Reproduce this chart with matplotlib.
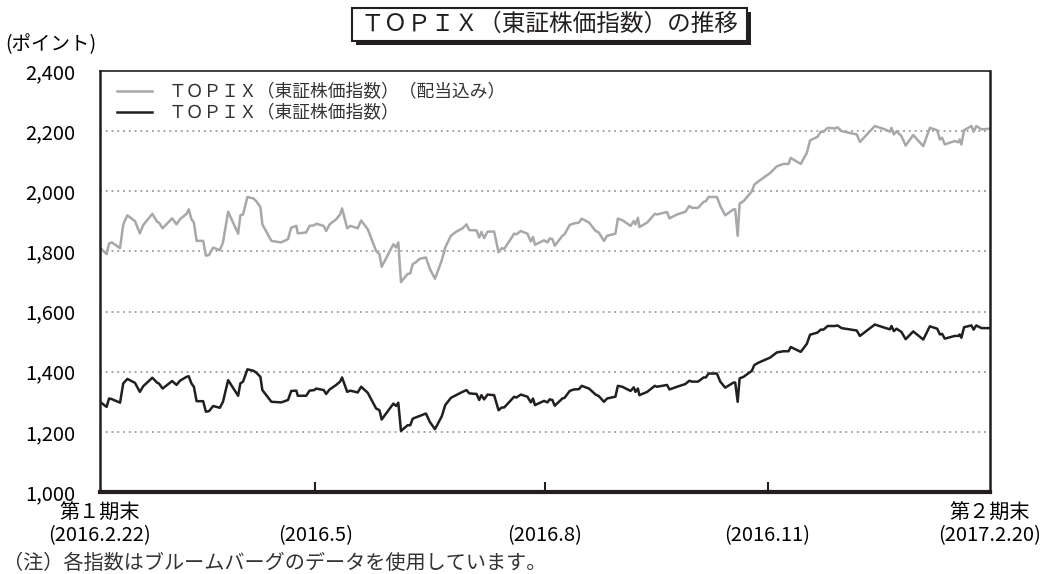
import matplotlib
matplotlib.use("Agg")
import matplotlib.pyplot as plt
import matplotlib.transforms as mtransforms
from matplotlib.patches import Rectangle

plt.rcParams['font.family'] = ['Noto Sans CJK JP', 'DejaVu Sans']

# -----------------------------------
# データ (第1期末 2016.2.22 からの経過日数)
# -----------------------------------
days = [0, 2.7, 3.7, 4.8, 8.2, 9.5, 11.2, 14.3, 16.3, 17.7, 21.4, 23.4, 24.1, 25.6,
        29.5, 31.3, 32.7, 35.4, 36.3, 37.4, 38.4, 39.5, 42.2, 43.3, 44.6, 46.3, 49.0,
        50.3, 52.4, 56.5, 57.4, 58.5, 60.3, 62.8, 63.9, 65.6, 66.4, 70.1, 74.1, 76.9,
        78.2, 80.3, 80.9, 84.3, 85.7, 87.7, 88.4, 91.5, 92.5, 93.9, 96.6, 98.2, 99.0,
        101.1, 102.4, 105.4, 106.8, 109.5, 112.9, 114.3, 115.2, 120.0, 121.1, 122.0,
        123.1, 125.8, 126.9, 127.9, 129.2, 130.6,
        133.3, 134.9, 137.0, 139.8, 141.2, 143.5, 145.6, 148.3, 149.9, 151.0, 154.0,
        155.1, 156.0, 157.1, 158.5, 161.2, 163.0, 164.3, 165.3, 169.4, 170.3, 172.1,
        174.8, 176.2, 177.1, 177.9, 181.6, 183.0, 183.9, 185.0, 186.0, 189.1, 190.0,
        192.1, 193.8, 195.9, 197.0, 200.0, 202.7, 204.0, 206.1, 207.4, 210.8, 211.8,
        213.6, 217.0, 218.3, 219.0, 220.0, 220.6, 223.8, 226.9, 227.8, 231.9, 232.9,
        236.0, 239.4, 241.0, 242.1, 244.6, 246.9, 247.8, 248.9, 252.3, 253.7, 255.7,
        259.1, 259.8, 260.8, 261.6, 263.2,
        266.6, 267.6, 269.3, 274.1, 276.8, 279.5, 281.6, 282.5, 286.6, 289.1, 290.4,
        293.4, 294.8, 295.9, 297.6, 300.6, 301.6, 303.3, 309.5, 310.8, 316.9, 321.0,
        323.1, 323.7, 324.7, 325.8, 327.8, 329.5, 332.6, 336.7, 339.4, 342.4, 343.5,
        344.4, 345.5, 349.6, 351.0, 351.6, 352.3, 353.4, 356.4, 357.3, 358.4, 360.5, 364]

topix_div = [1813, 1791, 1826, 1830, 1811, 1890, 1920, 1901, 1860, 1888, 1925, 1898, 1896, 1877,
             1910, 1890, 1907, 1925, 1940, 1907, 1896, 1835, 1835, 1786, 1788, 1813, 1804,
             1830, 1932, 1859, 1920, 1923, 1981, 1976, 1967, 1948, 1890, 1835, 1830, 1841,
             1879, 1885, 1860, 1863, 1885, 1887, 1892, 1885, 1868, 1890, 1907, 1923, 1943,
             1877, 1885, 1877, 1903, 1874, 1802, 1791, 1749, 1824, 1813, 1830,
             1698, 1725, 1727, 1758, 1764, 1775,
             1780, 1742, 1709, 1771, 1813, 1852, 1865, 1877, 1890, 1871, 1870,
             1846, 1865, 1844, 1866, 1866, 1797, 1811, 1808, 1859, 1857, 1868,
             1859, 1833, 1848, 1822, 1837, 1830, 1843, 1841, 1819, 1852, 1857,
             1888, 1893, 1896, 1909, 1896, 1868, 1863, 1835, 1852, 1859, 1909,
             1904, 1885, 1901, 1890, 1912, 1881, 1896, 1925, 1923, 1931, 1910,
             1923, 1932, 1951, 1945, 1945, 1965, 1967, 1981, 1981, 1951, 1920,
             1940, 1940, 1852, 1959, 1967,
             2000, 2022, 2033, 2061, 2083, 2091, 2091, 2111, 2091, 2128, 2169,
             2181, 2198, 2198, 2211, 2209, 2213, 2200, 2189, 2164, 2217, 2206,
             2198, 2211, 2189, 2200, 2183, 2152, 2187, 2150, 2211, 2203, 2172,
             2178, 2156, 2167, 2163, 2172, 2156, 2203, 2217, 2198, 2217, 2206, 2208]

topix = [1300, 1283, 1311, 1309, 1297, 1361, 1376, 1363, 1333, 1352, 1380, 1363, 1361, 1344,
         1369, 1356, 1370, 1383, 1385, 1361, 1350, 1302, 1302, 1267, 1269, 1286, 1280,
         1300, 1372, 1320, 1361, 1367, 1408, 1403, 1397, 1383, 1339, 1300, 1298, 1306,
         1336, 1337, 1320, 1320, 1337, 1339, 1344, 1339, 1326, 1341, 1356, 1367, 1381,
         1333, 1337, 1331, 1350, 1330, 1278, 1272, 1241, 1294, 1286, 1297,
         1203, 1222, 1222, 1244, 1248, 1252,
         1261, 1233, 1209, 1252, 1289, 1313, 1322, 1333, 1339, 1328, 1326,
         1306, 1322, 1308, 1324, 1322, 1272, 1281, 1281, 1317, 1314, 1324,
         1317, 1298, 1311, 1289, 1303, 1298, 1308, 1306, 1287, 1311, 1313,
         1336, 1341, 1342, 1353, 1344, 1324, 1319, 1300, 1311, 1317, 1353,
         1350, 1336, 1348, 1333, 1344, 1322, 1333, 1353, 1350, 1356, 1341,
         1350, 1359, 1370, 1367, 1367, 1381, 1381, 1394, 1394, 1367, 1347,
         1364, 1364, 1300, 1378, 1383,
         1403, 1422, 1430, 1447, 1464, 1468, 1468, 1482, 1466, 1493, 1523,
         1530, 1540, 1540, 1552, 1552, 1554, 1545, 1537, 1519, 1557, 1546,
         1541, 1552, 1535, 1543, 1532, 1508, 1534, 1507, 1551, 1543, 1524,
         1526, 1510, 1519, 1519, 1524, 1513, 1548, 1554, 1540, 1554, 1545, 1545]

tick_days = [0, 88, 182, 273, 364]
tick_labels = ["(2016.2.22)", "(2016.5)", "(2016.8)", "(2016.11)", "(2017.2.20)"]
yticks = [1000, 1200, 1400, 1600, 1800, 2000, 2200, 2400]

label_div = "ＴＯＰＩＸ（東証株価指数）（配当込み）"
label_topix = "ＴＯＰＩＸ（東証株価指数）"

# -----------------------------------
# グラフ
# -----------------------------------
W, H = 1048, 574
fig = plt.figure(figsize=(W / 100, H / 100), dpi=100)
ax = fig.add_axes([100 / W, 1 - 492 / H, 890 / W, 421 / H])

ax.plot(days, topix_div, color="#a7a8ab", lw=1.8, label=label_div, solid_joinstyle="round")
ax.plot(days, topix, color="#231f20", lw=1.8, label=label_topix, solid_joinstyle="round")

ax.set_xlim(0, 364)
ax.set_ylim(1000, 2400)

# 点線グリッド
for v in yticks[1:-1]:
    ax.axhline(v, color="#9a9a9a", lw=1.3, ls=(0, (1, 2.2)), zorder=0)

ax.set_yticks(yticks)
ax.set_yticklabels([f"{v:,}" for v in yticks], fontsize=14.5)
ax.tick_params(axis="y", length=0, pad=18)

ax.set_xticks(tick_days)
ax.set_xticklabels(tick_labels, fontsize=14.5)
ax.tick_params(axis="x", direction="in", length=7, width=1.5, pad=24, color="#231f20")
xt = ax.xaxis.get_major_ticks()
xt[0].tick1line.set_visible(False)
xt[-1].tick1line.set_visible(False)

for name, lw in [("left", 1.8), ("right", 1.8), ("bottom", 3.0), ("top", 1.2)]:
    ax.spines[name].set_linewidth(lw)
    ax.spines[name].set_color("#231f20")

# 期末ラベル
trans = mtransforms.blended_transform_factory(ax.transData, fig.transFigure)
ax.text(0, 1 - 513 / H, "第１期末", transform=trans, ha="center", va="center", fontsize=14.5)
ax.text(364, 1 - 513 / H, "第２期末", transform=trans, ha="center", va="center", fontsize=14.5)

leg = ax.legend(loc="upper left", frameon=False, fontsize=12.8, handlelength=2.0,
                handletextpad=0.9, labelspacing=0.15, borderaxespad=0.3,
                bbox_to_anchor=(0.005, 1.0))
for t in leg.get_texts():
    t.set_color("#333333")

# タイトル (影付きの枠)
bx, by, bw, bh = 352, 8, 395, 33
fig.patches.append(Rectangle(((bx + 4) / W, 1 - (by + bh + 4) / H), bw / W, bh / H,
                             transform=fig.transFigure, fc="#231f20", ec="none", zorder=1))
fig.patches.append(Rectangle((bx / W, 1 - (by + bh) / H), bw / W, bh / H,
                             transform=fig.transFigure, fc="white", ec="#231f20", lw=1.5,
                             zorder=2))
fig.text((bx + bw / 2) / W, 1 - (by + bh / 2) / H, "ＴＯＰＩＸ（東証株価指数）の推移",
         ha="center", va="center", fontsize=17, color="#231f20", zorder=3)

fig.text(5 / W, 1 - 45 / H, "(ポイント)", ha="left", va="center", fontsize=14)
fig.text(3 / W, 1 - 563 / H, "（注）各指数はブルームバーグのデータを使用しています。",
         ha="left", va="center", fontsize=14.5, color="#333333")

fig.savefig("out.png", dpi=100)
